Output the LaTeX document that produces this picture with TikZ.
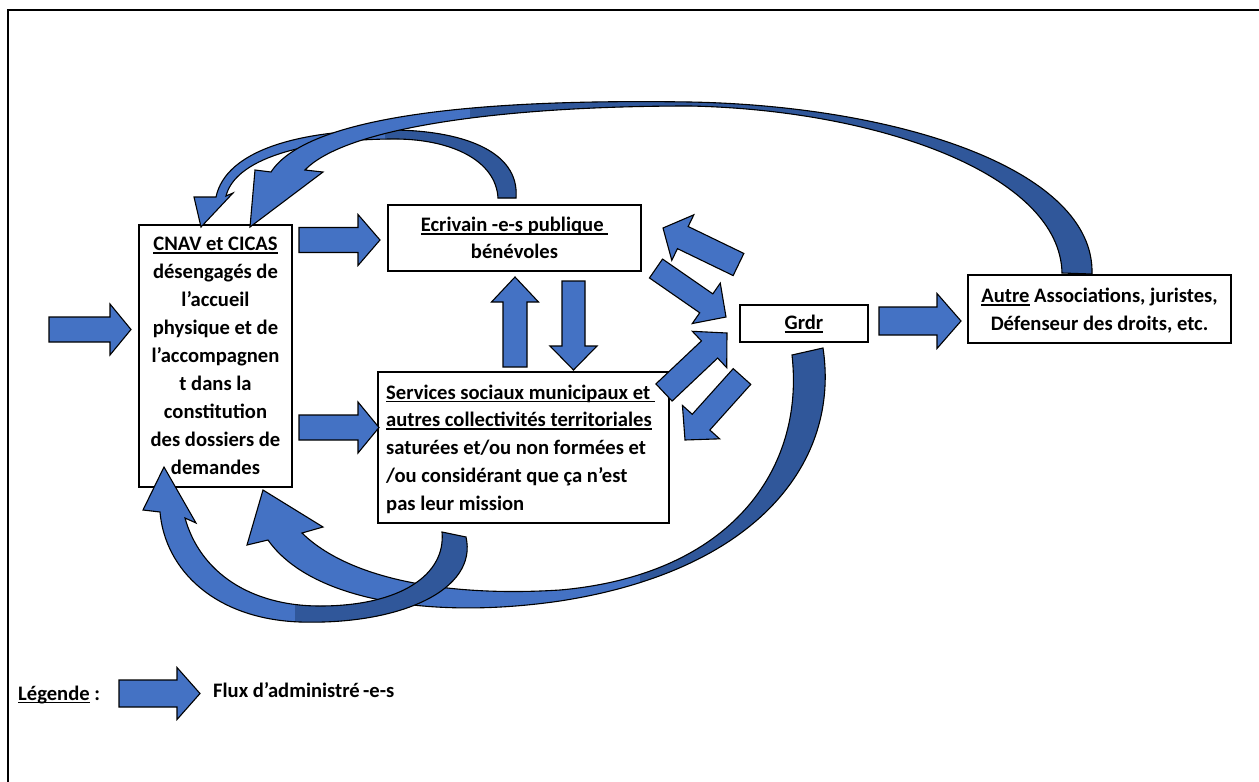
\documentclass[tikz,border=0pt]{standalone}
\usepackage{fontspec}
\setmainfont{Carlito}
\usetikzlibrary{calc}
\definecolor{flowA}{HTML}{4472C4}
\definecolor{flowB}{HTML}{30579A}
\newsavebox\ulbx
\newcommand\uln[1]{\sbox\ulbx{#1}\rlap{\rule[-3.4pt]{\wd\ulbx}{1.9pt}}\usebox\ulbx}
% straight block arrow: name, tail, tip, shaft half width, head half width, head length
\newcommand\barrow[6]{%
  \coordinate (#1T) at #2; \coordinate (#1P) at #3;
  \coordinate (#1H) at ($(#1P)!#6!(#1T)$);
  \draw[flow] ($(#1T)!#4!90:(#1P)$) -- ($(#1H)!#4!-90:(#1T)$) -- ($(#1H)!#5!-90:(#1T)$) -- (#1P)
     -- ($(#1H)!#5!90:(#1T)$) -- ($(#1H)!#4!90:(#1T)$) -- ($(#1T)!#4!-90:(#1P)$) -- cycle;}
% curved arrows
\newcommand\ecpath{(516,198) .. controls (520,150) and (460,130) .. (390,130) .. controls (300,130) and (226,150) .. (216,197) -- (194,197) -- (201,227) -- (233,193) -- (226,196) .. controls (235,160) and (300,140) .. (390,139) .. controls (450,138) and (496,160) .. (498,198) -- cycle}
\newcommand\aupath{(1092,274) .. controls (1095,170) and (900,106) .. (690,102) .. controls (500,99) and (310,112) .. (271,172) -- (255,170) -- (250,227) -- (323,172) -- (305,170) .. controls (345,128) and (500,106) .. (690,106) .. controls (880,110) and (1060,175) .. (1062,273) -- cycle}
\newcommand\grpath{(823,348) .. controls (840,460) and (760,570) .. (560,601) .. controls (430,620) and (310,600) .. (268,540) -- (247,545) -- (263,490) -- (323,527) -- (302,533) .. controls (350,580) and (450,597) .. (560,590) .. controls (730,575) and (805,470) .. (792,355) -- cycle}
\newcommand\svpath{(466,537) .. controls (478,590) and (400,625) .. (300,622) .. controls (215,619) and (165,570) .. (160,512) -- (143,510) -- (164,467) -- (196,523) -- (185,518) .. controls (200,572) and (250,606) .. (320,606) .. controls (400,606) and (446,575) .. (442,532) -- cycle}
\newcommand\curvearrow[2]{% path, clip x for dark part
  \fill[flowA] #1;
  \begin{scope}\clip (#2,0) rectangle (1259,782); \fill[flowB] #1; \end{scope}
  \draw[cbord] #1;}
\begin{document}
\begin{tikzpicture}[x=1pt,y=-1pt,
  flow/.style={fill=flowA,draw=black,line width=1.1pt,line join=miter},
  cbord/.style={draw=black,line width=1.1pt,line join=miter},
  box/.style={draw=black,line width=1.2pt,inner sep=0pt},
  txt/.style={font=\bfseries\fontsize{20.6}{28}\selectfont,inner sep=0pt}]
\useasboundingbox (0,0) rectangle (1259,782);
\draw[line width=1.2pt] (8,782) -- (8,10) -- (1259,10);

% boxes
\node[box,minimum width=153pt,minimum height=262pt] (cnav) at (215.5,356) {};
\node[box,minimum width=253pt,minimum height=66pt] (ecr) at (514.5,238) {};
\node[box,minimum width=291pt,minimum height=151pt] (serv) at (523.5,447.5) {};
\node[box,minimum width=128pt,minimum height=37pt] (grdr) at (804,323.5) {};
\node[box,minimum width=263pt,minimum height=68pt] (autre) at (1099.5,309) {};

% texts
\node[txt,align=center] (cnavtxt) at (215.5,356) {\uln{CNAV et CICAS}\\d\'esengag\'es de\\l’accueil\\physique et de\\l’accompagnen\\t dans la\\constitution\\des dossiers de\\demandes};
\node[txt,align=center,font=\bfseries\fontsize{20.6}{27}\selectfont] (ecrtxt) at (514.5,237.5) {\uln{Ecrivain -e-s publique\ }\\b\'en\'evoles};
\node[txt,align=left,anchor=west,font=\bfseries\fontsize{20.6}{27.8}\selectfont] (servtxt) at (386,449) {\uln{Services sociaux municipaux et\ }\\\uln{autres collectivit\'es territoriales}\\satur\'ees et/ou non form\'ees et\\/ou consid\'erant que ça n’est\\pas leur mission};
\node[txt] (grdrtxt) at (804,323.6) {\uln{Grdr}};
\node[txt,align=center] (autretxt) at (1099.5,311) {\uln{Autre} Associations, juristes,\\D\'efenseur des droits, etc.};

% straight arrows
\barrow{in}{(49,329.5)}{(131,329.5)}{12.5pt}{25.5pt}{21pt}
\barrow{ce}{(299,240)}{(380,240)}{12.5pt}{25.5pt}{22pt}
\barrow{cs}{(299,427.5)}{(379,427.5)}{12.5pt}{25.5pt}{21pt}
\barrow{se}{(515,367)}{(515,277)}{12pt}{23.5pt}{25pt}
\barrow{es}{(573.5,281)}{(573.5,370)}{11.5pt}{23.5pt}{24pt}
\barrow{ga}{(879,321)}{(961,321)}{14pt}{27.5pt}{24pt}
\barrow{ge}{(738.5,264.5)}{(663,228)}{12.3pt}{25.3pt}{22pt}
\barrow{eg}{(656,268.5)}{(726,317)}{11.5pt}{24.6pt}{24pt}
\barrow{sg}{(664,392.5)}{(727,333)}{11.8pt}{25pt}{24pt}
\barrow{gs}{(742,376.5)}{(685,440)}{11.8pt}{25pt}{24pt}

% curved arrows
\curvearrow{\ecpath}{385}
\curvearrow{\aupath}{470}
\curvearrow{\grpath}{640}
\curvearrow{\svpath}{295}

% legend
\node[txt,anchor=base west] (legtxt) at (18,700) {\uln{L\'egende} :};
\barrow{lg}{(119,693.5)}{(200,693.5)}{13.5pt}{26pt}{23pt}
\node[txt,anchor=base west] (fluxtxt) at (213,697) {Flux d’administr\'e\,-e-s};
\end{tikzpicture}
\end{document}
